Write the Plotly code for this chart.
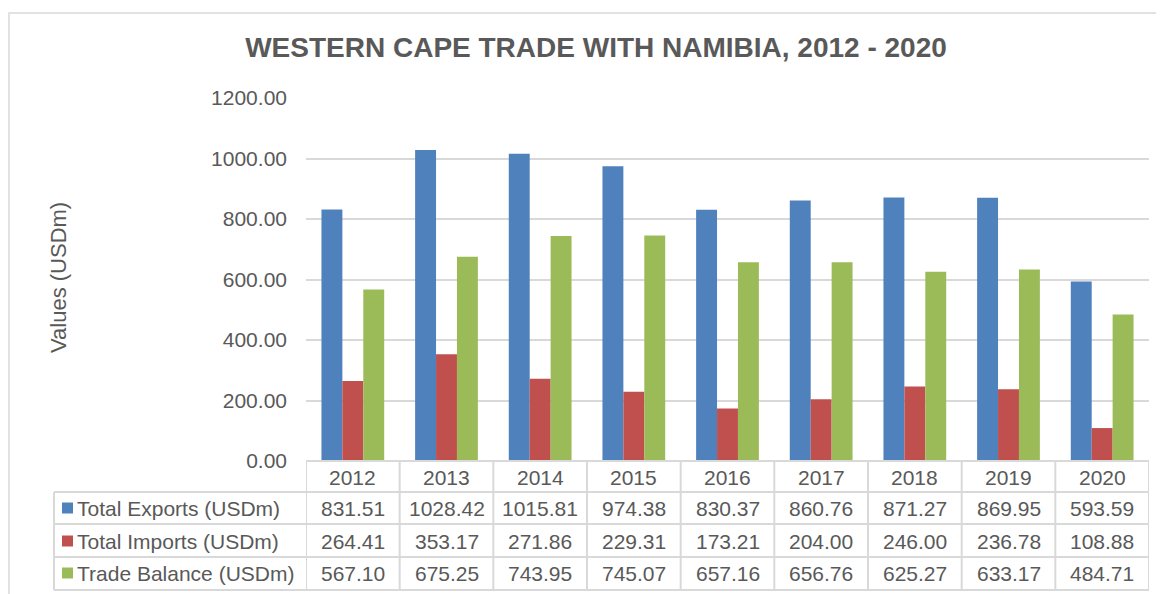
import plotly.graph_objects as go

years = ['2012', '2013', '2014', '2015', '2016', '2017', '2018', '2019', '2020']
exports = [831.51, 1028.42, 1015.81, 974.38, 830.37, 860.76, 871.27, 869.95, 593.59]
imports = [264.41, 353.17, 271.86, 229.31, 173.21, 204.00, 246.00, 236.78, 108.88]
balance = [567.10, 675.25, 743.95, 745.07, 657.16, 656.76, 625.27, 633.17, 484.71]

series_names = ['Total Exports (USDm)', 'Total Imports (USDm)', 'Trade Balance (USDm)']
series_values = [exports, imports, balance]
colors = ['#4F81BD', '#C0504D', '#9BBB59']

W, H = 1164, 594
OFF = 8  # page body margin
GREY = '#595959'
LINE = '#D9D9D9'


def px(x):
    return (x - OFF) / W


def py(y):
    return 1 - (y - OFF) / H


fig = go.Figure()

for name, vals, col in zip(series_names, series_values, colors):
    fig.add_trace(go.Bar(x=years, y=vals, name=name, marker=dict(color=col, line=dict(width=0)),
                         showlegend=False))

shapes = []
annotations = []

# outer chart border
shapes.append(dict(type='rect', xref='paper', yref='paper', x0=px(9), x1=px(1190), y0=py(620), y1=py(13),
                   line=dict(color=LINE, width=1.5)))

# data table below the axis
row_tops = [461, 492, 524, 557, 590]
for i, yy in enumerate(row_tops):
    x0 = 306 if i == 0 else 54
    shapes.append(dict(type='line', xref='paper', yref='paper', x0=px(x0), x1=px(1149), y0=py(yy), y1=py(yy),
                       line=dict(color=LINE, width=2)))
shapes.append(dict(type='line', xref='paper', yref='paper', x0=px(54), x1=px(54), y0=py(492), y1=py(590),
                   line=dict(color=LINE, width=2)))
for k in range(len(years) + 1):
    shapes.append(dict(type='line', xref='x', yref='paper', x0=k - 0.5, x1=k - 0.5, y0=py(461), y1=py(590),
                       line=dict(color=LINE, width=2)))

# year header row
for i, yr in enumerate(years):
    annotations.append(dict(x=i, xref='x', y=py(477), yref='paper', text=yr, showarrow=False,
                            font=dict(size=21, color=GREY), xanchor='center', yanchor='middle'))

row_centers = [508, 541, 573]
for name, vals, col, yc in zip(series_names, series_values, colors, row_centers):
    shapes.append(dict(type='rect', xref='paper', yref='paper', x0=px(62), x1=px(73),
                       y0=py(yc + 5.5), y1=py(yc - 5.5), fillcolor=col, line=dict(width=0)))
    annotations.append(dict(x=px(75), xref='paper', y=py(yc), yref='paper', text=name, showarrow=False,
                            font=dict(size=21, color=GREY), xanchor='left', yanchor='middle'))
    for i, v in enumerate(vals):
        annotations.append(dict(x=i, xref='x', y=py(yc), yref='paper', text=f'{v:.2f}', showarrow=False,
                                font=dict(size=21, color=GREY), xanchor='center', yanchor='middle'))

# y axis title
annotations.append(dict(x=px(58), xref='paper', y=py(278), yref='paper', text='Values (USDm)', textangle=-90,
                        showarrow=False, font=dict(size=22, color=GREY), xanchor='center', yanchor='middle'))

fig.update_layout(
    template='none',
    width=W, height=H,
    margin=dict(l=0, r=0, t=0, b=0, pad=0),
    paper_bgcolor='white', plot_bgcolor='white',
    font=dict(family='Liberation Sans, Arial, sans-serif', color=GREY),
    title=dict(text='<b>WESTERN CAPE TRADE WITH NAMIBIA, 2012 - 2020</b>', x=px(596), xanchor='center',
               y=py(47), yanchor='middle', font=dict(size=28, color=GREY)),
    barmode='group', bargap=0.33, bargroupgap=0,
    xaxis=dict(type='category', domain=[px(306), px(1149)], range=[-0.5, 8.5], showticklabels=False,
               showgrid=False, zeroline=False, showline=False, ticks='', automargin=False),
    yaxis=dict(domain=[py(461), py(98)], range=[0, 1200], dtick=200, tickformat='.2f',
               showgrid=True, gridcolor=LINE, gridwidth=1.5, zeroline=False, showline=False,
               ticks='', ticklabelstandoff=18, tickfont=dict(size=21, color=GREY), automargin=False),
    shapes=shapes,
    annotations=annotations,
)

fig.write_html("out.html")
